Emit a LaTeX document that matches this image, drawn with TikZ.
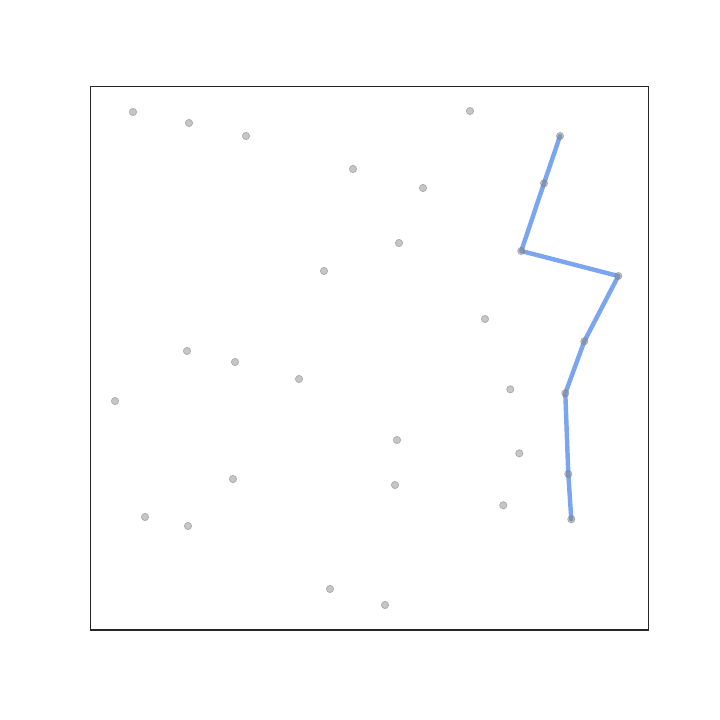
\documentclass[tikz,border=0pt]{standalone}
\usepackage{tikz}
\usetikzlibrary{calc}

\definecolor{routeblue}{RGB}{100,149,237}

\tikzset{
    stop/.style={circle, fill=gray, draw=gray, line width=0.3pt, fill opacity=0.45, draw opacity=0.5, inner sep=0pt, minimum size=2.9pt},
    route/.style={routeblue, line width=1.75pt, line cap=round, line join=round, opacity=0.85}
}

\begin{document}
\begin{tikzpicture}[x=10cm/720, y=-10cm/720]
    \useasboundingbox (0,0) rectangle (720,720);
    % Frame
    \draw[line width=0.45pt, black!85] (90.5,86.5) rectangle (648.5,630);

    % Route points
    \coordinate (r1) at (560,136);
    \coordinate (r2) at (544,183.3);
    \coordinate (r3) at (521.3,251);
    \coordinate (r4) at (618.3,276);
    \coordinate (r5) at (584.3,341.3);
    \coordinate (r6) at (565.3,393.3);
    \coordinate (r7) at (568.3,474);
    \coordinate (r8) at (571.3,519.3);

    % Route
    \draw[route] (r1) -- (r2) -- (r3) -- (r4) -- (r5) -- (r6) -- (r7) -- (r8);

    % Other points
    \foreach \x/\y [count=\i] in {133/112, 189/123, 246/136, 470/111, 353/169, 423/188,
        399/243, 324/271, 485/319, 187/351, 235/362, 299/379, 115/401, 510.3/389.3,
        397/440, 519.3/453.3, 233/479, 395/485, 503.3/505.3, 145/517, 188/526,
        330/589, 385/605}
        \node[stop] (p\i) at (\x,\y) {};

    % Route stops on top
    \foreach \i in {1,...,8}
        \node[stop] (s\i) at (r\i) {};
\end{tikzpicture}
\end{document}
